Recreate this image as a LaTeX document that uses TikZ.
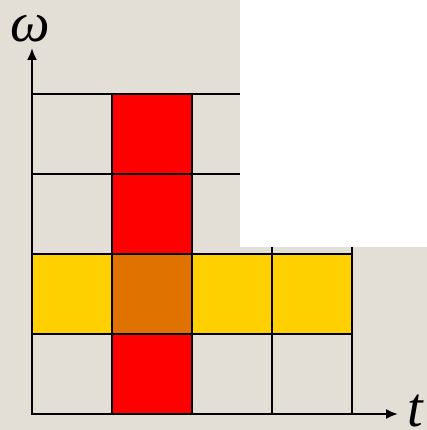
\documentclass[tikz,border=0pt]{standalone}
\usepackage{fontspec}
\setmainfont{Liberation Serif}
\usepackage{tikz}
\usetikzlibrary{arrows.meta,positioning}
\definecolor{PaperBeige}{HTML}{E4DFD6}
\definecolor{CellRed}{HTML}{FF0000}
\definecolor{CellYellow}{HTML}{FFD000}
\definecolor{CellOrange}{HTML}{E07200}
\tikzset{%
  cell/.style={draw=none,minimum width=80pt,minimum height=80pt,inner sep=0pt,anchor=south west},
  gridline/.style={line width=2pt,black},
  axis/.style={-{Latex[length=12pt,width=10pt]},line width=2pt,black},
  axislabel/.style={inner sep=0pt,font=\fontsize{56}{60}\selectfont\itshape}
}
\begin{document}
\begin{tikzpicture}[x=1pt,y=1pt]
      \fill[PaperBeige] (0,0) rectangle (427,430);
      \useasboundingbox (0,0) rectangle (427,430);
      % time column and frequency row
      \foreach \r in {0,2,3} {
        \node[cell,fill=CellRed] (col\r) at (112,16+80*\r) {};
      }
      \node[cell,fill=CellYellow] (row0) at (32,96) {};
      \node[cell,fill=CellOrange] (cross) at (112,96) {};
      \node[cell,fill=CellYellow] (row2) at (192,96) {};
      \node[cell,fill=CellYellow] (row3) at (272,96) {};
      % grid
      \foreach \i in {0,...,4} {
        \draw[gridline] (32+80*\i,16) -- (32+80*\i,336);
        \draw[gridline] (31,16+80*\i) -- (353,16+80*\i);
      }
      \fill[white] (240,183) rectangle (427,430);
      % axes
      \coordinate (origin) at (32,16);
      \coordinate (wtip) at (32,382);
      \coordinate (ttip) at (398,16);
      \draw[axis] (origin) -- (wtip);
      \draw[axis] (origin) -- (ttip);
      \node[axislabel,anchor=base] (omega) at (30,388) {ω};
      \node[axislabel,anchor=base west] (time) at (407,4) {t};
    \end{tikzpicture}
\end{document}
